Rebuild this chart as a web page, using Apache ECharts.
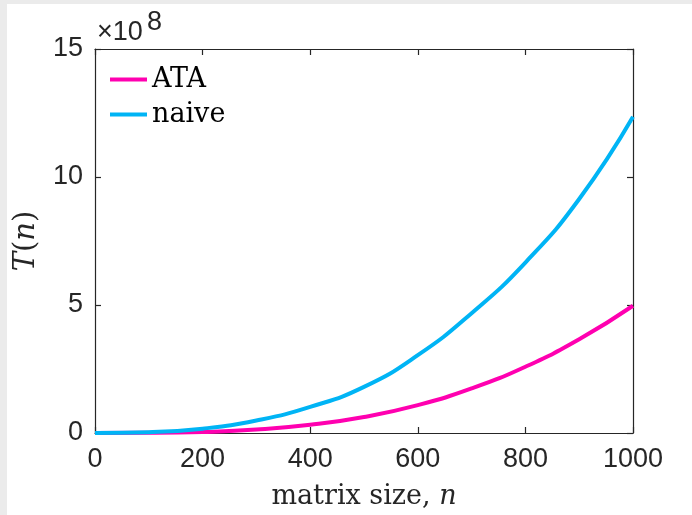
<!DOCTYPE html>
<html>
<head>
<meta charset="utf-8">
<script src="https://cdn.jsdelivr.net/npm/echarts@6/dist/echarts.min.js"></script>
<style>
  html, body { margin: 0; padding: 0; background: #ebebeb; }
  #main { width: 692px; height: 515px; }
</style>
</head>
<body>
<div id="main"></div>
<script>
// 数据 (y in units of 1e8)
var sizes = [0, 100, 200, 300, 400, 500, 600, 700, 800, 900, 1000];
var ataT = [0, 0.005, 0.04, 0.135, 0.32, 0.625, 1.09, 1.74, 2.59, 3.66, 4.97];
var naiveT = [0, 0.03, 0.17, 0.49, 1.02, 1.8, 3.04, 4.68, 6.66, 9.14, 12.35];
var xTicks = [0, 200, 400, 600, 800, 1000];
var yTicks = [0, 5, 10, 15];

var axisColor = '#262626';
var sansFont = '"Liberation Sans", Arial, sans-serif';
var serifFont = '"DejaVu Serif", "Liberation Serif", serif';

function pairs(ys) {
    return sizes.map(function (n, i) { return [n, ys[i]]; });
}

var myChart = echarts.init(document.getElementById('main'));

var baseX = {
    type: 'value',
    min: xTicks[0],
    max: xTicks[xTicks.length - 1],
    interval: xTicks[1] - xTicks[0],
    axisLine: { show: true, onZero: false, lineStyle: { color: axisColor, width: 1.2 } },
    axisTick: { show: true, inside: true, length: 6, lineStyle: { color: axisColor, width: 1.2 } },
    splitLine: { show: false }
};
var baseY = {
    type: 'value',
    min: yTicks[0],
    max: yTicks[yTicks.length - 1],
    interval: yTicks[1] - yTicks[0],
    axisLine: { show: true, onZero: false, lineStyle: { color: axisColor, width: 1.2 } },
    axisTick: { show: true, inside: true, length: 6, lineStyle: { color: axisColor, width: 1.2 } },
    splitLine: { show: false }
};

var option = {
    backgroundColor: '#ffffff',
    animation: false,
    grid: { left: 95, right: 59, top: 49, bottom: 79.5 },
    graphic: [
        { type: 'rect', left: 0, top: 0, shape: { width: 692, height: 4 }, style: { fill: '#ebebeb' } },
        { type: 'rect', left: 0, top: 0, shape: { width: 7, height: 515 }, style: { fill: '#ebebeb' } },
        { type: 'text', left: 97, top: 19, style: { text: '×10', font: '27px ' + sansFont, fill: axisColor } },
        { type: 'text', left: 147, top: 9, style: { text: '8', font: '27px ' + sansFont, fill: axisColor } }
    ],
    legend: {
        orient: 'vertical',
        left: 110,
        top: 66,
        padding: 0,
        icon: 'rect',
        itemWidth: 37,
        itemHeight: 4,
        itemGap: 8,
        textStyle: { fontFamily: serifFont, fontSize: 27, color: '#000' },
        data: ['ATA', 'naive']
    },
    xAxis: [
        Object.assign({}, baseX, {
            position: 'bottom',
            name: '{r|matrix size, }{i|n}',
            nameLocation: 'middle',
            nameGap: 50,
            nameTextStyle: {
                rich: {
                    r: { fontFamily: serifFont, fontSize: 27, color: axisColor },
                    i: { fontFamily: serifFont, fontSize: 27, fontStyle: 'italic', color: axisColor }
                }
            },
            axisLabel: {
                show: true, margin: 13, fontFamily: sansFont, fontSize: 27, color: axisColor,
                formatter: function (v) { return String(v); }
            }
        }),
        Object.assign({}, baseX, { position: 'top', axisLabel: { show: false } })
    ],
    yAxis: [
        Object.assign({}, baseY, {
            position: 'left',
            name: '{i|T}{r|(}{i|n}{r|)}',
            nameLocation: 'middle',
            nameRotate: 90,
            nameGap: 54,
            nameTextStyle: {
                rich: {
                    r: { fontFamily: serifFont, fontSize: 29, color: axisColor },
                    i: { fontFamily: serifFont, fontSize: 29, fontStyle: 'italic', color: axisColor }
                }
            },
            axisLabel: { show: true, margin: 12, fontFamily: sansFont, fontSize: 27, color: axisColor }
        }),
        Object.assign({}, baseY, { position: 'right', axisLabel: { show: false } })
    ],
    series: [{
        name: 'ATA',
        type: 'line',
        color: '#ff00b0',
        symbol: 'none',
        smooth: true,
        lineStyle: { width: 4 },
        data: pairs(ataT)
    }, {
        name: 'naive',
        type: 'line',
        color: '#00b4f5',
        symbol: 'none',
        smooth: true,
        lineStyle: { width: 4 },
        data: pairs(naiveT)
    }]
};

myChart.setOption(option);
</script>
</body>
</html>
